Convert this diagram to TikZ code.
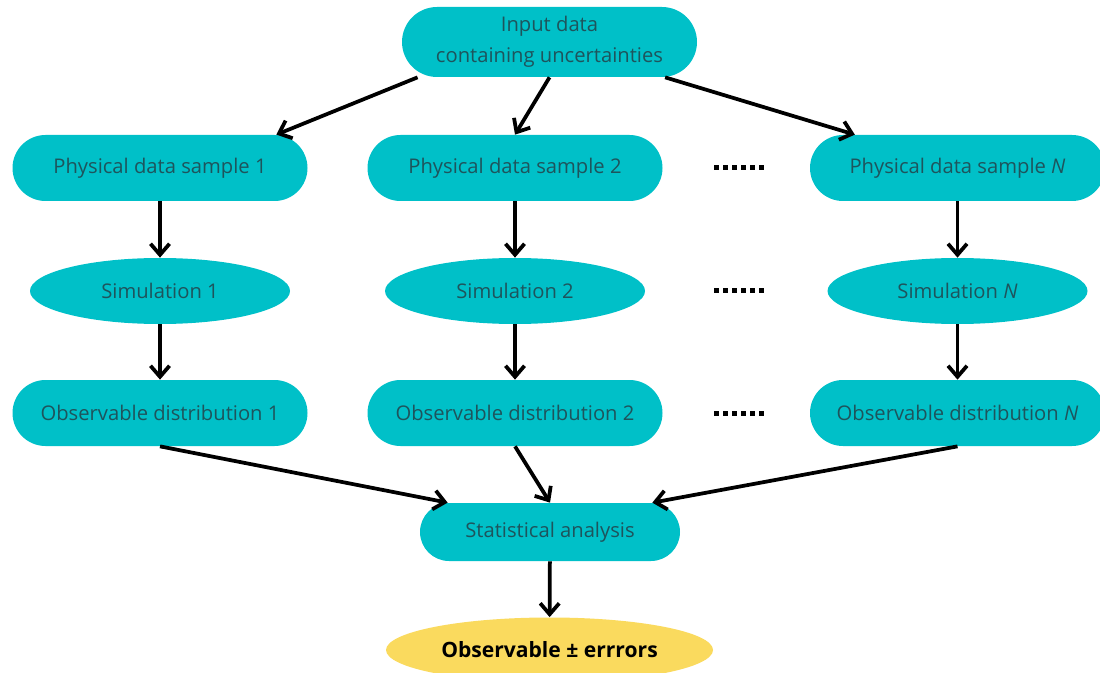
\documentclass[tikz,border=0pt]{standalone}
\usepackage{fontspec}
\setmainfont{Open Sans}
\usepackage{tikz}
\usetikzlibrary{arrows.meta, positioning, shapes.geometric, calc}

\definecolor{tealbox}{RGB}{0,192,200}
\definecolor{tealtext}{RGB}{30,84,92}
\definecolor{goldbox}{RGB}{250,218,94}

\begin{document}
\begin{tikzpicture}[
    pill/.style={rectangle, rounded corners=0.66cm, fill=tealbox, text=tealtext,
        minimum width=5.9cm, minimum height=1.32cm, font=\fontsize{11.5}{17.5}\selectfont, align=center},
    oval/.style={ellipse, fill=tealbox, text=tealtext, minimum width=5.2cm,
        minimum height=1.32cm, inner sep=0pt, font=\fontsize{11.5}{17.5}\selectfont},
    flow/.style={-{Straight Barb[length=2.2mm, width=3.8mm]}, line width=0.075cm},
    gap/.style={line width=0.1cm, dash pattern=on 0.1cm off 0.08cm}
]
    \useasboundingbox (0,0) rectangle (22,-13.46);

    % top
    \node[pill, minimum height=1.4cm, rounded corners=0.7cm] (inp) at (10.99,-0.84) {Input data\\containing uncertainties};

    % columns
    \node[pill] (ph1) at (3.2,-3.36) {Physical data sample 1};
    \node[pill] (ph2) at (10.3,-3.36) {Physical data sample 2};
    \node[pill] (phN) at (19.15,-3.36) {Physical data sample \textit{N}};
    \node[oval] (sim1) at (3.2,-5.82) {Simulation 1};
    \node[oval] (sim2) at (10.3,-5.82) {Simulation 2};
    \node[oval] (simN) at (19.15,-5.82) {Simulation \textit{N}};
    \node[pill] (obs1) at (3.2,-8.26) {Observable distribution 1};
    \node[pill] (obs2) at (10.3,-8.26) {Observable distribution 2};
    \node[pill] (obsN) at (19.15,-8.26) {Observable distribution \textit{N}};

    \foreach \y in {-3.36,-5.82,-8.26}
        \draw[gap] (14.28,\y) -- (15.28,\y);

    % bottom
    \node[pill, minimum width=5.2cm, minimum height=1.16cm, rounded corners=0.58cm] (stat) at (11.0,-10.64) {Statistical analysis};
    \node[ellipse, fill=goldbox, minimum width=6.54cm, minimum height=1.3cm,
        font=\fontsize{12}{14}\selectfont\bfseries] (res) at (10.99,-13.0) {Observable ± errrors};

    \draw[flow] (inp.195) -- (ph1.16);
    \draw[flow] (inp.south) -- (ph2.north);
    \draw[flow] (inp.343) -- (phN.162);
    \foreach \c in {1,2,N} {
        \draw[flow] (ph\c) -- (sim\c);
        \draw[flow] (sim\c) -- (obs\c);
    }
    \draw[flow] (obs1.south) -- (stat.164);
    \draw[flow] (obs2.south) -- (stat.north);
    \draw[flow] (obsN.south) -- (stat.16);
    \draw[flow] (stat) -- (res);
\end{tikzpicture}
\end{document}
